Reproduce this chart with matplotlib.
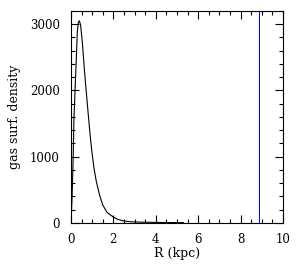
import matplotlib
matplotlib.use("Agg")
import matplotlib.pyplot as plt
from matplotlib.ticker import MultipleLocator

# gas surface density profile
radius = [0, 0.05, 0.1, 0.14, 0.2, 0.25, 0.3, 0.35, 0.4, 0.46, 0.55, 0.63,
          0.72, 0.8, 0.9, 1.0, 1.1, 1.2, 1.35, 1.5, 1.7, 1.97, 2.2, 2.47,
          2.8, 3.2, 3.7, 4.3, 5.3]
density = [0, 350, 900, 1550, 2050, 2450, 2880, 3030, 3050, 2980, 2680, 2330,
           1990, 1700, 1340, 1040, 800, 620, 420, 270, 160, 95, 55, 30,
           18, 12, 9, 6, 4]
r_sun = 8.88

plt.rcParams['font.family'] = ['DejaVu Serif']

fig = plt.figure(figsize=(2.98, 2.66), dpi=100)
ax = fig.add_axes([0.238, 0.162, 0.712, 0.797])

ax.plot(radius, density, color='black', lw=0.8)
ax.axvline(r_sun, color='blue', lw=0.7, antialiased=False)

ax.set_xlim(0, 10)
ax.set_ylim(0, 3200)
ax.xaxis.set_major_locator(MultipleLocator(2))
ax.xaxis.set_minor_locator(MultipleLocator(0.5))
ax.yaxis.set_major_locator(MultipleLocator(1000))
ax.yaxis.set_minor_locator(MultipleLocator(200))
ax.tick_params(which='both', direction='in', top=True, right=True,
               width=0.8, labelsize=8.5)
ax.tick_params(axis='x', pad=7)
ax.tick_params(axis='y', pad=8)
ax.tick_params(which='major', length=6)
ax.tick_params(which='minor', length=3)
for s in ax.spines.values():
    s.set_linewidth(0.8)

ax.set_xlabel('R (kpc)', fontsize=9, labelpad=1)
ax.set_ylabel('gas surf. density', fontsize=9, labelpad=6)

fig.savefig('out.png', dpi=100)
